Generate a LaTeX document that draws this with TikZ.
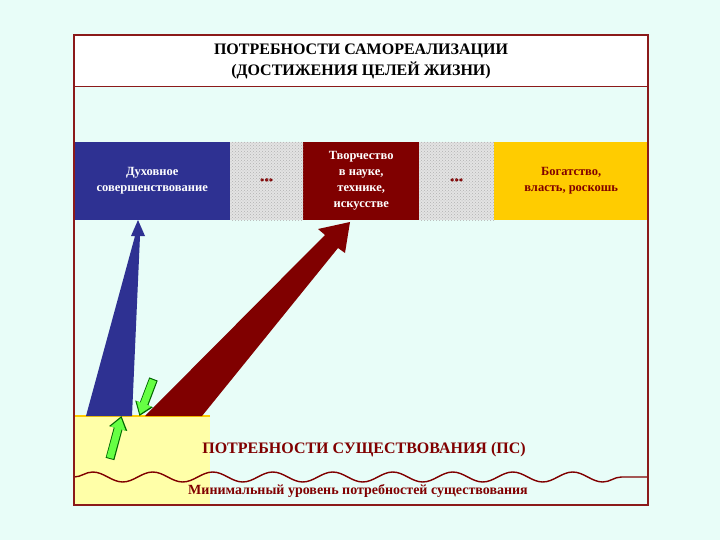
\documentclass[tikz,border=0pt]{standalone}
\usepackage{fontspec}
\setmainfont{Liberation Serif}
\usetikzlibrary{patterns,arrows.meta,decorations.pathmorphing}
\definecolor{bgcol}{HTML}{E8FDF8}
\definecolor{frame}{HTML}{8B1A1A}
\definecolor{navy}{HTML}{2E3192}
\definecolor{maroon}{HTML}{800000}
\definecolor{gold}{HTML}{FFCC00}
\definecolor{pale}{HTML}{FFFFA8}
\definecolor{lgreen}{HTML}{66FF44}

\begin{document}
\begin{tikzpicture}[x=1pt,y=-1pt,
  every node/.style={font=\bfseries},
  needbox/.style={minimum height=78pt,inner sep=0pt,anchor=north west,align=center,font=\bfseries\fontsize{12.5}{16}\selectfont},
  dotbox/.style={needbox,fill=gray!22},
  greenedge/.style={line width=9pt,green!40!black,-{Triangle[length=13pt,width=18pt]}},
  greenarrow/.style={line width=7pt,lgreen,-{Triangle[length=11pt,width=15pt]}}]
\useasboundingbox (0,0) rectangle (720,540);
\fill[bgcol] (0,0) rectangle (720,540);
% title band
\fill[white] (74,35) rectangle (648,87);
\draw[frame,line width=1pt] (74,87) -- (648,87);
\node[font=\bfseries\fontsize{16}{21}\selectfont,align=center] (title) at (361,61)
  {ПОТРЕБНОСТИ САМОРЕАЛИЗАЦИИ\\(ДОСТИЖЕНИЯ ЦЕЛЕЙ ЖИЗНИ)};
% row of needs
\node[needbox,fill=navy,text=white,minimum width=156pt] (spirit) at (74,142) {Духовное\\совершенствование};
\node[dotbox,minimum width=73pt] (dots1) at (230,142) {\textcolor{maroon}{•••}};
\node[needbox,fill=maroon,text=white,minimum width=116pt] (create) at (303,142) {Творчество\\в науке,\\технике,\\искусстве};
\node[dotbox,minimum width=75pt] (dots2) at (419,142) {\textcolor{maroon}{•••}};
\node[needbox,fill=gold,text=maroon,minimum width=154pt] (wealth) at (494,142) {Богатство,\\власть, роскошь};
\fill[pattern=crosshatch dots,pattern color=gray!60] (dots1.north west) rectangle (dots1.south east);
\fill[pattern=crosshatch dots,pattern color=gray!60] (dots2.north west) rectangle (dots2.south east);
% existence base
\fill[pale] (74,416) rectangle (210,505);
\draw[gold,line width=2pt] (74,416) -- (210,416);
% big arrows
\fill[navy] (86,416) -- (132,416) -- (140,236) -- (145,236) -- (138,220) -- (131,236) -- (135,236) -- cycle;
\fill[maroon] (145,416) -- (202,416) -- (338,248) -- (345,253) -- (350,222) -- (318,229) -- (325,235) -- cycle;
% green arrows
\draw[greenedge] (110,459) -- (121.5,416);
\draw[greenarrow] (110,458) -- (121,418);
\draw[greenedge] (153.5,379) -- (139.5,416);
\draw[greenarrow] (153,380) -- (140,414);
\node[text=maroon,font=\bfseries\fontsize{16}{19}\selectfont] (exist) at (364,450) {ПОТРЕБНОСТИ СУЩЕСТВОВАНИЯ (ПС)};
\draw[maroon,line width=1.4pt,decorate,decoration={snake,amplitude=5pt,segment length=60pt}] (74,477) -- (648,477);
\node[text=maroon,font=\bfseries\fontsize{14}{16}\selectfont] (minimum) at (358,491) {Минимальный уровень потребностей существования};
% frame
\draw[frame,line width=1.2pt] (74,35) rectangle (648,505);
\end{tikzpicture}
\end{document}
